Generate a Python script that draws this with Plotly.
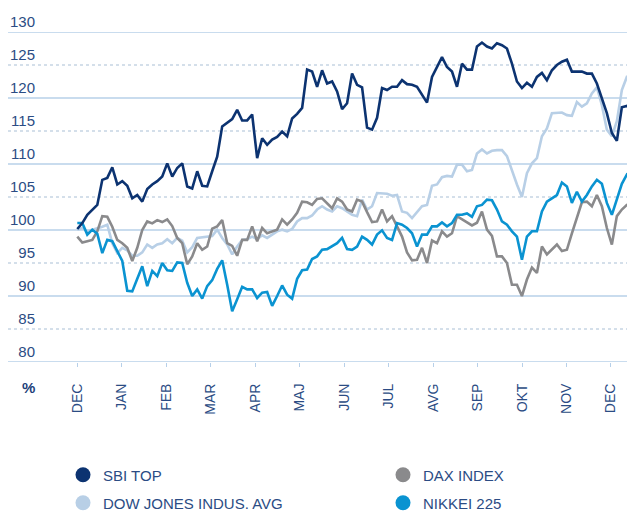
import numpy as np
import plotly.graph_objects as go

# ---- data ---------------------------------------------------------------
month_labels = ["DEC", "JAN", "FEB", "MAR", "APR", "MAJ", "JUN",
                "JUL", "AVG", "SEP", "OKT", "NOV", "DEC"]

sbi_top = [
    100.15, 101.05, 102.3, 103.1, 103.8, 107.6, 107.9, 109.5, 106.9, 107.4, 106.7, 104.8, 105.3, 104.3,
    106.2, 106.9, 107.4, 108.1, 110.1, 108.1, 109.4, 110.1, 106.6, 106.3, 108.9, 106.7, 106.6, 108.9,
    111.1, 115.7, 116.2, 116.8, 118.2, 116.6, 116.6, 117.5, 110.9, 113.9, 112.9, 113.7, 114.1, 114.9,
    114.2, 116.9, 117.6, 118.5, 124.3, 124.0, 121.7, 124.2, 122.2, 122.5, 121.0, 118.3, 119.2, 123.7,
    122.0, 121.6, 115.5, 115.2, 117.0, 121.5, 121.2, 121.7, 121.7, 122.7, 122.1, 122.0, 121.7, 120.5,
    119.3, 123.2, 124.8, 126.2, 124.7, 124.0, 121.7, 125.2, 124.3, 124.3, 127.8, 128.4, 127.8, 127.5,
    128.3, 128.0, 127.5, 125.2, 122.5, 121.5, 122.3, 121.7, 123.2, 123.8, 122.7, 124.2, 125.0, 125.5,
    125.8, 124.0, 124.0, 124.0, 123.7, 123.7, 122.2, 120.0, 117.7, 114.7, 113.5, 118.6, 118.8, 118.2,
]

dax_index = [
    99.0, 98.1, 98.3, 98.5, 99.8, 102.1, 102.0, 100.5, 98.5, 98.0, 97.3, 95.3, 97.3, 100.0,
    101.3, 101.0, 101.5, 101.2, 101.6, 100.6, 98.8, 98.0, 94.8, 96.0, 98.0, 97.0, 97.5, 100.2,
    100.55, 101.5, 98.0, 97.6, 96.1, 98.5, 98.5, 100.55, 98.3, 100.3, 99.5, 99.8, 100.05, 101.6,
    100.8, 101.6, 102.6, 104.3, 104.2, 103.8, 104.7, 104.8, 104.1, 103.3, 104.8, 104.3, 103.1, 102.8,
    104.6, 104.3, 102.7, 101.2, 101.3, 103.1, 101.3, 102.1, 100.55, 99.0, 96.6, 95.4, 95.5, 97.3,
    95.0, 98.4, 98.0, 99.8, 99.0, 99.5, 102.1, 101.6, 101.1, 100.7, 101.1, 102.8, 100.05, 99.1,
    96.0, 96.0, 95.0, 91.7, 91.7, 90.0, 92.5, 94.3, 93.5, 97.5, 96.3, 97.0, 97.8, 96.8,
    97.0, 99.5, 101.8, 104.2, 104.3, 103.6, 105.3, 103.6, 100.3, 97.8, 102.1, 103.1, 103.8, 104.0,
]

dow_jones = [
    100.05, 100.3, 99.8, 100.0, 100.3, 100.5, 100.8, 98.0, 96.5, 97.3, 96.9, 96.1, 96.1, 96.6,
    97.8, 97.3, 97.8, 98.0, 98.6, 98.0, 98.8, 98.4, 96.6, 97.4, 98.8, 98.9, 99.0, 99.1,
    100.05, 98.8, 97.8, 96.3, 97.5, 98.5, 98.6, 99.0, 98.6, 99.2, 98.8, 99.3, 99.8, 100.05,
    99.8, 100.15, 101.3, 101.8, 101.8, 102.2, 103.1, 103.6, 103.1, 102.8, 103.6, 103.3, 102.8, 102.3,
    102.1, 104.6, 103.1, 103.6, 105.6, 105.6, 105.5, 105.2, 105.3, 102.8, 102.6, 101.8, 102.7, 103.6,
    103.8, 106.7, 106.9, 108.0, 108.2, 108.1, 109.9, 109.9, 108.9, 109.1, 111.6, 112.2, 111.6, 112.0,
    112.1, 112.1, 111.2, 108.9, 106.9, 105.0, 108.6, 110.1, 110.9, 114.2, 115.4, 117.7, 117.7, 117.8,
    117.4, 117.3, 119.4, 118.7, 119.2, 120.7, 121.6, 118.9, 115.2, 114.2, 116.5, 121.2, 123.2, 123.2,
]

nikkei_225 = [
    101.05, 101.05, 99.3, 100.05, 99.45, 96.5, 98.5, 98.3, 96.8, 95.3, 90.8, 90.7, 92.6, 94.5,
    91.5, 93.8, 93.0, 95.0, 93.9, 93.8, 95.1, 95.0, 92.0, 90.0, 91.0, 89.6, 91.5, 92.4,
    94.1, 95.4, 91.7, 87.7, 89.5, 91.4, 91.0, 91.0, 89.7, 90.5, 90.6, 88.5, 90.0, 91.6,
    90.2, 89.6, 92.6, 93.9, 94.0, 95.6, 96.0, 97.0, 97.1, 97.5, 98.0, 98.8, 97.1, 97.0,
    97.5, 99.0, 98.5, 97.8, 99.3, 99.95, 98.8, 98.5, 101.05, 100.8, 100.3, 99.5, 97.5, 99.3,
    99.3, 100.55, 100.55, 101.15, 100.55, 101.05, 102.3, 102.3, 102.5, 102.0, 103.6, 103.8, 104.6, 104.5,
    103.1, 101.3, 100.8, 99.8, 99.0, 95.5, 99.0, 99.8, 99.8, 102.8, 104.3, 104.8, 105.3, 107.2,
    106.6, 104.1, 105.8, 104.3, 105.3, 106.6, 107.6, 107.0, 104.1, 102.3, 104.6, 107.0, 108.4, 107.9,
]

# observation times, in months since the start of the first December
obs_months = np.linspace(0, 12.47, len(sbi_top))

y_ticks = [80, 85, 90, 95, 100, 105, 110, 115, 120, 125, 130]

# ---- styles -------------------------------------------------------------
C_SBI = "#0c3371"
C_DAX = "#8a8a8c"
C_DOW = "#b8cfe6"
C_NIK = "#0a93d1"
TXT = "#2b4c84"
FONT = "Liberation Sans, Arial, sans-serif"

# the page body adds an 8px margin, so the figure is 8px smaller
OFF = 8
W, H = 635 - OFF, 512 - OFF
ML, MR, MT, MB = 28, 0, 24, 150
PW, PH = W - ML - MR, H - MT - MB

fig = go.Figure()

series = [
    ("DOW JONES INDUS. AVG", dow_jones, C_DOW),
    ("DAX INDEX", dax_index, C_DAX),
    ("NIKKEI 225", nikkei_225, C_NIK),
    ("SBI TOP", sbi_top, C_SBI),
]
for name, vals, col in series:
    fig.add_trace(go.Scatter(x=obs_months, y=vals, mode="lines", name=name,
                             line=dict(color=col, width=2.6),
                             showlegend=False, hoverinfo="skip"))

# legend entries (circle symbols) – one small legend box per entry
# (cx, cy) = symbol centre in screen pixels
legend_items = [
    ("legend", "SBI TOP", C_SBI, 84, 475),
    ("legend2", "DAX INDEX", C_DAX, 404, 475),
    ("legend3", "DOW JONES INDUS. AVG", C_DOW, 84, 503),
    ("legend4", "NIKKEI 225", C_NIK, 404, 503),
]
legend_layout = {}
for lg, name, col, cx, cy in legend_items:
    fig.add_trace(go.Scatter(x=[None], y=[None], mode="markers", name=name,
                             marker=dict(color=col, size=15, symbol="circle"),
                             legend=lg, showlegend=True))
    legend_layout[lg] = dict(
        x=(cx - OFF - 21 - ML) / PW, y=(MT + PH - (cy - OFF)) / PH,
        xanchor="left", yanchor="middle", orientation="h",
        font=dict(family=FONT, size=15, color=TXT),
        itemsizing="trace", bgcolor="rgba(0,0,0,0)", borderwidth=0,
        itemclick=False, itemdoubleclick=False)

# gridlines (solid at tens, dotted at fives), extending left under labels
shapes = []
for v in y_ticks:
    solid = v % 10 == 0
    shapes.append(dict(type="line", xref="paper", yref="y",
                       x0=-ML / PW, x1=1, y0=v, y1=v,
                       line=dict(color="#b7d0e9" if solid else "#a9bfd5",
                                 width=1.3 if solid else 1,
                                 dash="solid" if solid else "dot"),
                       layer="below"))

fig.update_layout(
    width=W, height=H,
    margin=dict(l=ML, r=MR, t=MT, b=MB, autoexpand=False),
    paper_bgcolor="white", plot_bgcolor="white",
    font=dict(family=FONT, color=TXT),
    shapes=shapes,
    xaxis=dict(range=[-0.929, 12.541], tickmode="array",
               tickvals=list(range(len(month_labels))), ticktext=month_labels,
               tickangle=-90, ticks="outside", ticklen=4, tickcolor="#b7d0e9",
               tickwidth=1, showgrid=False, zeroline=False, showline=False,
               tickfont=dict(family=FONT, size=14, color=TXT),
               ticklabelstandoff=11, fixedrange=True),
    yaxis=dict(range=[80, 130], tickmode="array", tickvals=y_ticks,
               ticks="", showgrid=False, zeroline=False, showline=False,
               tickfont=dict(family=FONT, size=15, color=TXT),
               ticklabelshift=-10, ticklabelstandoff=0, fixedrange=True),
    annotations=[dict(text="<b>%</b>", xref="paper", yref="paper",
                      x=(28.5 - OFF - ML) / PW,
                      y=-(387.5 - OFF - (MT + PH)) / PH,
                      xanchor="center", yanchor="middle", showarrow=False,
                      font=dict(family=FONT, size=15, color="#1d3f7a"))],
    **legend_layout,
)

fig.write_html("out.html")
